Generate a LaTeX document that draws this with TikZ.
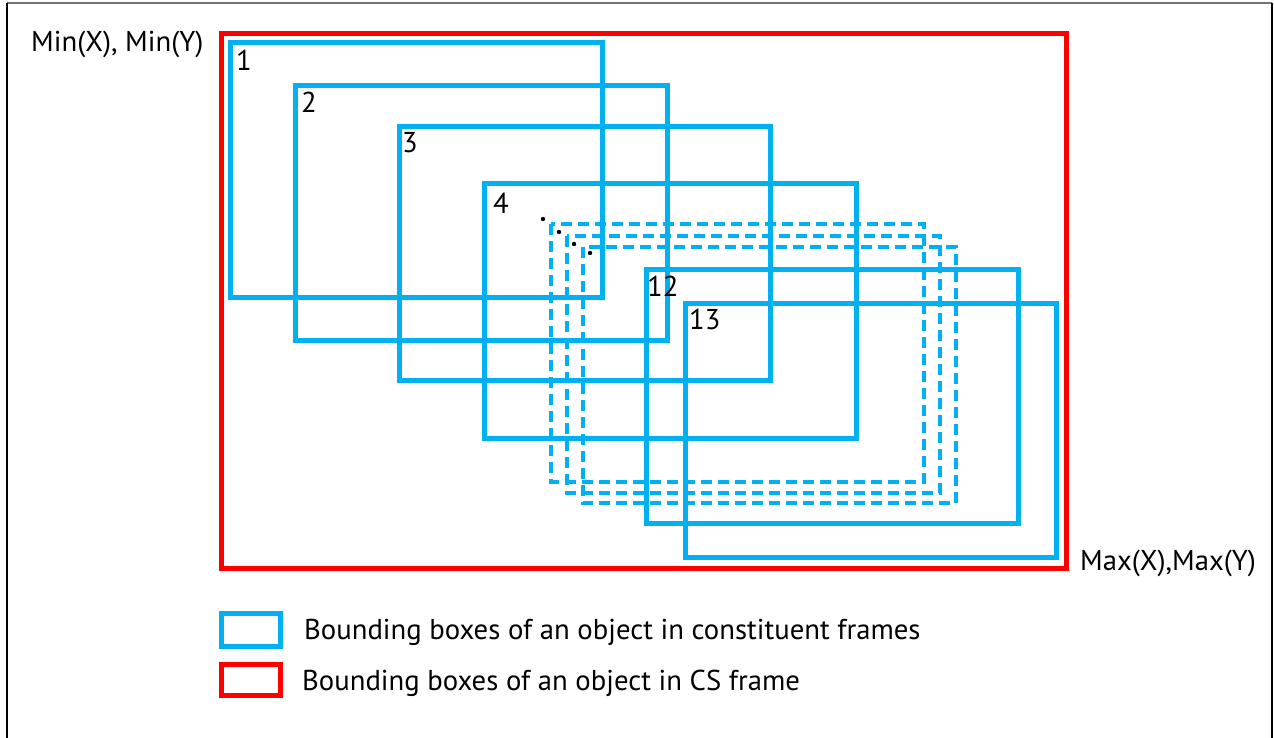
\documentclass[tikz,border=0pt]{standalone}
\usepackage{fontspec}
\setmainfont{PT Sans}
\usepackage{tikz}

\definecolor{boxblue}{RGB}{0,176,240}
\definecolor{boxred}{RGB}{255,0,0}

\begin{document}
\begin{tikzpicture}[x=1pt,y=-1pt,
  cbox/.style={draw=boxblue,line width=5pt},
  dbox/.style={draw=boxblue,line width=3.2pt,dash pattern=on 11pt off 6pt},
  csbox/.style={draw=boxred,line width=5pt},
  lbl/.style={anchor=base west,inner sep=0pt,font=\fontsize{28.7}{34}\selectfont}]
\useasboundingbox (0,0) rectangle (1274,738);
\draw[black!55,line width=2pt] (7,3) -- (1272,3);
\draw[line width=2pt] (7,3) -- (7,738) (1272,3) -- (1272,738);
% CS frame
\draw[csbox] (221,34) rectangle (1066,568);
% constituent frames
\draw[cbox] (230,43) rectangle (602,297);
\draw[cbox] (295,86) rectangle (667,340);
\draw[cbox] (399,127) rectangle (770,380);
\draw[cbox] (484,184) rectangle (856,438);
\foreach \x/\y/\u/\v in {551/224/924/482, 567/236/940/493, 583/247/956/503}
  \draw[dbox] (\x,\y) rectangle (\u,\v);
\foreach \x/\y in {543/219, 559/232, 574/244, 590/253}
  \fill (\x,\y) circle (2.2pt);
\draw[cbox] (646,269) rectangle (1018,523);
\draw[cbox] (685,303) rectangle (1056,557);
\node[lbl] (n1) at (236,71) {1};
\node[lbl] (n2) at (301,113) {2};
\node[lbl] (n3) at (402,153) {3};
\node[lbl] (n4) at (493,214) {4};
\node[lbl] (n12) at (647,296) {12};
\node[lbl] (n13) at (689,329) {13};
\node[lbl] (minxy) at (31,52) {Min(X), Min(Y)};
\node[lbl] (maxxy) at (1080,570) {Max(X),Max(Y)};
% legend
\draw[cbox] (221,613) rectangle (280,646);
\draw[csbox] (221,664) rectangle (280,695);
\node[lbl] (legcf) at (304,639) {Bounding boxes of an object in constituent frames};
\node[lbl] (legcs) at (302,690) {Bounding boxes of an object in CS frame};
\end{tikzpicture}
\end{document}
